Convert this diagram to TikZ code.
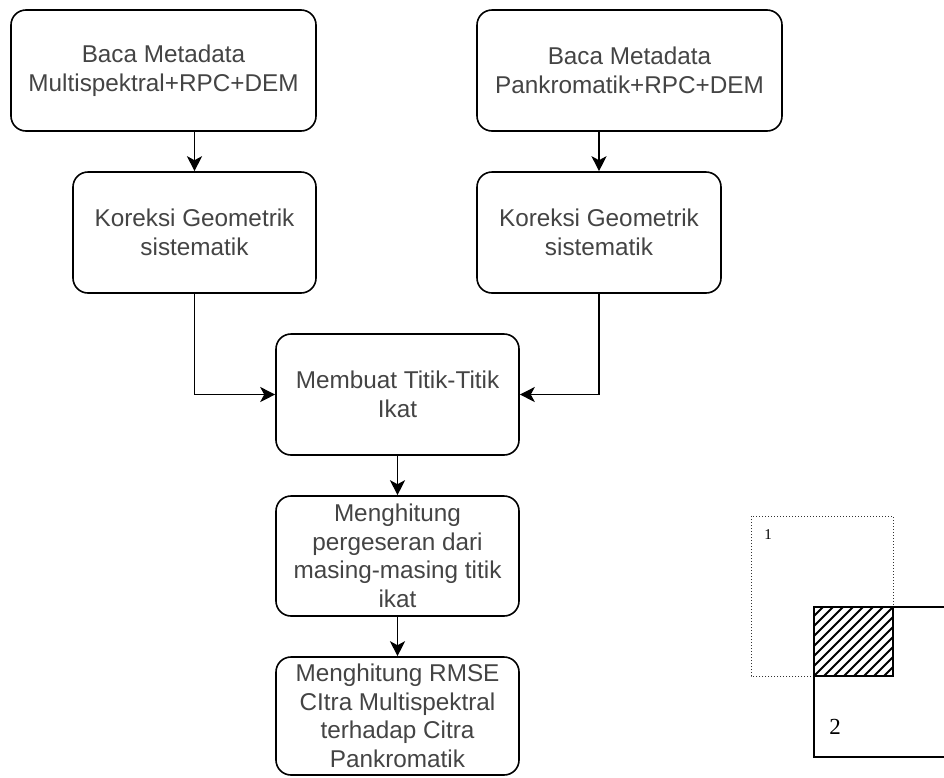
\documentclass[tikz,border=0pt]{standalone}
\usepackage{fontspec}
\setmainfont{Liberation Sans}
\newfontfamily\seriffont{Liberation Serif}
\usetikzlibrary{arrows.meta}
\definecolor{txt}{HTML}{444444}
\begin{document}
\begin{tikzpicture}[x=1pt,y=-1pt,
  box/.style={draw=black, line width=1.6pt, rounded corners=15pt, rectangle,
    inner sep=0pt, align=center, text=txt,
    font=\fontsize{24.3}{28.5}\selectfont},
  arr/.style={draw=black, line width=1.6pt,
    -{Stealth[length=15pt,width=15pt,inset=4pt]}},
  lbl/.style={inner sep=0pt, text=black}
]
\useasboundingbox (0,0) rectangle (944,777);
\fill[white] (0,0) rectangle (944,777);

\node[box, minimum width=305pt, minimum height=121pt] (A) at (163.5,70.5)
  {Baca Metadata\\Multispektral+RPC+DEM};
\node[box, minimum width=243pt, minimum height=121pt] (B) at (194.5,232.5)
  {Koreksi Geometrik\\sistematik};
\node[box, minimum width=305pt, minimum height=121pt] (C) at (629.5,70.5)
  {Baca Metadata\\Pankromatik+RPC+DEM};
\node[box, minimum width=244pt, minimum height=121pt] (D) at (599,232.5)
  {Koreksi Geometrik\\sistematik};
\node[box, minimum width=243pt, minimum height=121pt] (M) at (397.5,394.5)
  {Membuat Titik-Titik\\Ikat};
\node[box, minimum width=243pt, minimum height=120pt] (N) at (397.5,556)
  {Menghitung\\pergeseran dari\\masing-masing titik\\ikat};
\node[box, minimum width=243pt, minimum height=118pt] (R) at (397.5,716)
  {Menghitung RMSE\\CItra Multispektral\\terhadap Citra\\Pankromatik};

\draw[arr] (A.south -| B.north) -- (B.north);
\draw[arr] (C.south -| D.north) -- (D.north);
\draw[arr] (B.south) |- (M.west);
\draw[arr] (D.south) |- (M.east);
\draw[arr] (M.south) -- (N.north);
\draw[arr] (N.south) -- (R.north);

% overlap figure
\begin{scope}
  \clip (814,607) rectangle (893,676);
  \foreach \i in {-90,-80,...,90}
    \draw[line width=2pt] (814+\i,686) -- ++(100,-100);
\end{scope}
\draw[line width=1pt, dotted, gray!40!black]
  (814,676) -- (751,676) -- (751,516) -- (893,516) -- (893,607);
\draw[line width=1.2pt] (944,607) -- (814,607) -- (814,757) -- (944,757);
\draw[line width=1.2pt] (814,676) -- (893,676) -- (893,607);
\node[lbl, font=\seriffont\fontsize{15}{18}\selectfont] (n1) at (768,535) {1};
\node[lbl, font=\seriffont\fontsize{23}{26}\selectfont] (n2) at (835,727) {2};
\end{tikzpicture}
\end{document}
